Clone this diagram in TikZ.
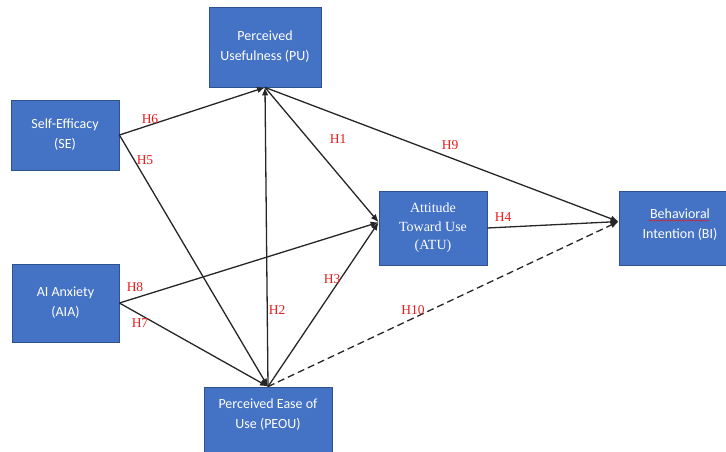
\documentclass[tikz,border=0pt]{standalone}
\usepackage{fontspec}
\setmainfont{Liberation Serif}
\newfontfamily\boxfont{Carlito}
\usetikzlibrary{shapes, arrows.meta, decorations.pathmorphing}
\definecolor{boxblue}{RGB}{68,114,196}
\definecolor{boxedge}{RGB}{47,82,143}
\definecolor{hypred}{RGB}{232,28,28}
\tikzstyle{block} = [rectangle, draw=boxedge, fill=boxblue, line width=0.8pt, text=white, align=center, inner sep=2pt, font=\boxfont\fontsize{14}{20}\selectfont]
\tikzstyle{hyp} = [text=hypred, inner sep=1pt, font=\fontsize{13.5}{15}\selectfont]
\tikzstyle{arrow} = [line width=1.3pt, draw=black!85, ->, >={Latex[length=8pt, width=6.5pt]}]

\begin{document}
\begin{tikzpicture}[x=1pt, y=-1pt]
        \useasboundingbox (0,0) rectangle (726,451);
        \clip (0,0) rectangle (726,451);

        % blocks
        \node [block, minimum width=112pt, minimum height=80pt] (pu) at (265,47) {Perceived\\Usefulness (PU)};
        \node [block, minimum width=108pt, minimum height=70pt] (se) at (65,135) {Self-Efficacy\\(SE)};
        \node [block, minimum width=107pt, minimum height=78pt] (aia) at (65.5,303) {AI Anxiety\\(AIA)};
        \node [block, minimum width=128pt, minimum height=73pt, text depth=20pt] (peou) at (268,423.5) {Perceived Ease of\\Use (PEOU)};
        \node [block, minimum width=108pt, minimum height=74pt, font=\fontsize{14}{18.5}\selectfont] (atu) at (433,228) {Attitude\\Toward Use\\(ATU)};
        \node [block, minimum width=122pt, minimum height=74pt, text depth=9pt] (bi) at (680,228) {Behavioral\\Intention (BI)};

        % spell-check underline
        \draw [hypred, line width=0.5pt, decorate, decoration={snake, amplitude=0.6pt, segment length=3pt}] (648,220.5) -- (709,220.5);

        % arrows
        \draw [arrow] (se.east) -- (pu.south);
        \draw [arrow] (se.east) -- (peou.north);
        \draw [arrow] (aia.east) -- (atu.174);
        \draw [arrow] (aia.east) -- (peou.north);
        \draw [arrow] (peou.north) -- (pu.south);
        \draw [arrow] (pu.south) -- (atu.174);
        \draw [arrow] (peou.north) -- (atu.174);
        \draw [arrow] (pu.south) -- (bi.174);
        \draw [arrow] (atu.east) -- (bi.174);
        \draw [arrow, dash pattern=on 7pt off 4pt] (peou.north) -- (bi.174);

        % hypotheses
        \node [hyp] (h1) at (338,139) {H1};
        \node [hyp] (h2) at (277,310) {H2};
        \node [hyp] (h3) at (332,279) {H3};
        \node [hyp] (h4) at (503,217) {H4};
        \node [hyp] (h5) at (145,160) {H5};
        \node [hyp] (h6) at (150,119) {H6};
        \node [hyp] (h7) at (140,323) {H7};
        \node [hyp] (h8) at (135,287) {H8};
        \node [hyp] (h9) at (450,145) {H9};
        \node [hyp] (h10) at (413,310) {H10};
\end{tikzpicture}
\end{document}
